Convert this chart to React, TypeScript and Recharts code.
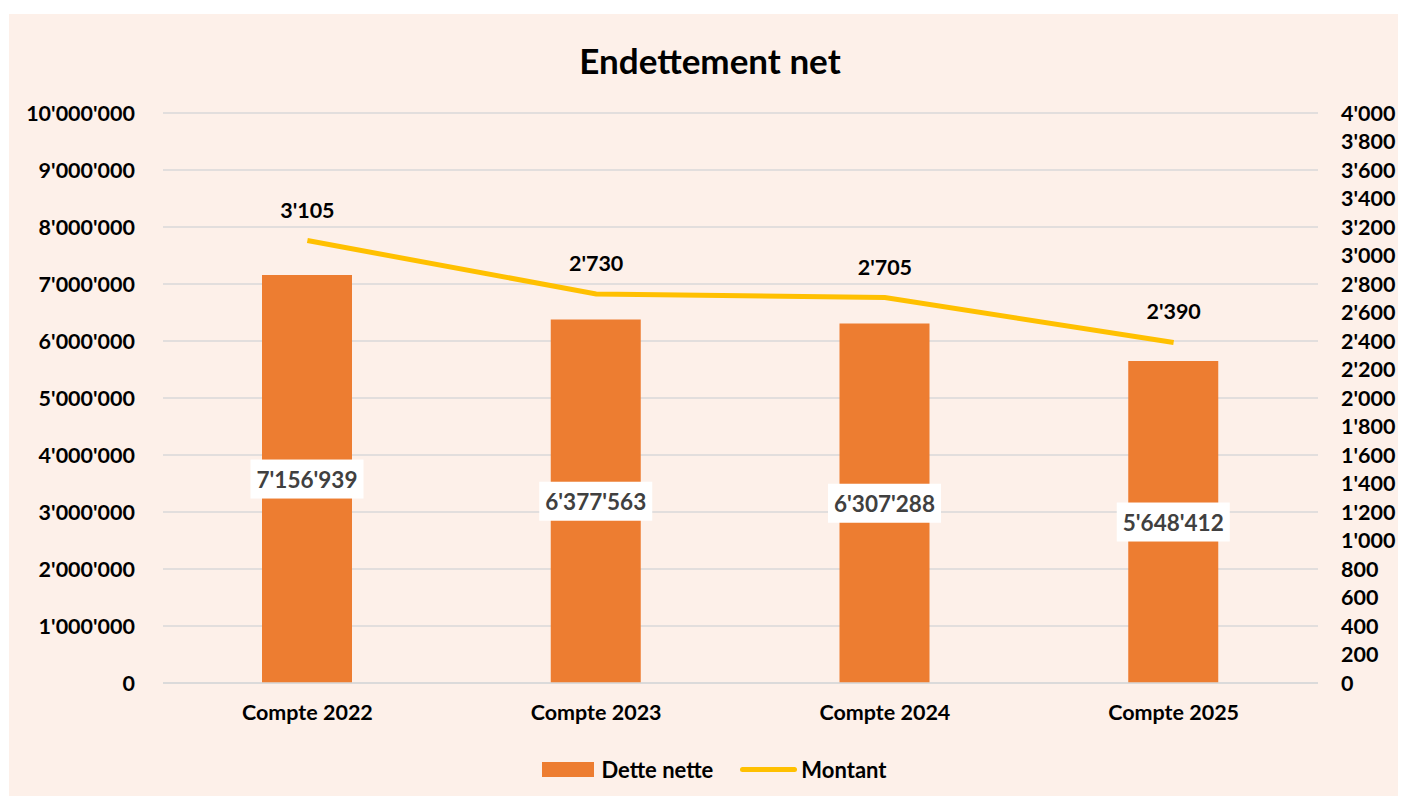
import { ComposedChart, Bar, Line, XAxis, YAxis, CartesianGrid, Legend, LabelList } from "recharts"

const categories = ["Compte 2022", "Compte 2023", "Compte 2024", "Compte 2025"]
const detteNette = [7156939, 6377563, 6307288, 5648412]
const montant = [3105, 2730, 2705, 2390]

const leftTicks = [0, 1000000, 2000000, 3000000, 4000000, 5000000, 6000000, 7000000, 8000000, 9000000, 10000000]
const rightTicks = [
  0, 200, 400, 600, 800, 1000, 1200, 1400, 1600, 1800, 2000,
  2200, 2400, 2600, 2800, 3000, 3200, 3400, 3600, 3800, 4000,
]

const ORANGE = "#ED7D31"
const YELLOW = "#FFC000"
const FONT = "Lato, 'Open Sans', sans-serif"

const data = categories.map((name, i) => ({
  name,
  dette: detteNette[i],
  montant: montant[i],
}))

// swiss style thousands separator
const fmt = (v: number) => String(Math.round(v)).replace(/\B(?=(\d{3})+(?!\d))/g, "'")

const tickStyle = { fill: "#000", fontSize: 21.5, fontWeight: 700 }

function BarLabel(props: any) {
  const { x, y, width, height, value } = props
  const cx = x + width / 2
  const cy = y + height / 2
  return (
    <g>
      <rect x={cx - 56.5} y={cy - 19.5} width={113} height={39} fill="#fff" />
      <text x={cx} y={cy} textAnchor="middle" dominantBaseline="central" fill="#404040" fontSize={22.5} fontWeight={700}>
        {fmt(value)}
      </text>
    </g>
  )
}

function LineLabel(props: any) {
  const { x, y, value } = props
  return (
    <text x={x} y={y - 31} textAnchor="middle" dominantBaseline="central" fill="#000" fontSize={21.5} fontWeight={700}>
      {fmt(value)}
    </text>
  )
}

function LegendContent() {
  return (
    <div style={{ display: "flex", justifyContent: "center", alignItems: "center", paddingLeft: 22, fontSize: 22, fontWeight: 700, color: "#000" }}>
      <span style={{ display: "inline-block", width: 52, height: 15, background: ORANGE, marginRight: 7 }} />
      <span>Dette nette</span>
      <span style={{ display: "inline-block", width: 57, height: 5, borderRadius: 3, background: YELLOW, marginLeft: 27, marginRight: 4 }} />
      <span>Montant</span>
    </div>
  )
}

export default function App() {
  return (
    <div style={{ position: "absolute", left: 0, top: 0, width: 1401, height: 798, background: "#fff", fontFamily: FONT }}>
      <div style={{ position: "absolute", left: 9, top: 14, width: 1389, height: 782, background: "#FDF0E9" }}>
        <div style={{ position: "absolute", left: 0, top: 25, width: 1389, paddingLeft: 13, boxSizing: "border-box", textAlign: "center", fontSize: 35, fontWeight: 700, color: "#000" }}>
          Endettement net
        </div>
        <ComposedChart width={1389} height={782} data={data} margin={{ top: 99, right: 0, left: 0, bottom: 6 }}>
          <CartesianGrid vertical={false} yAxisId="left" stroke="#D9D9D9" strokeWidth={1.5} />
          <XAxis dataKey="name" height={73} axisLine={{ stroke: "#D9D9D9", strokeWidth: 1.5 }} tickLine={false} tickMargin={16} tick={tickStyle} />
          <YAxis
            yAxisId="left"
            domain={[0, 10000000]}
            ticks={leftTicks}
            interval={0}
            width={154}
            axisLine={false}
            tickLine={false}
            tickMargin={22}
            tickFormatter={fmt}
            tick={tickStyle}
          />
          <YAxis
            yAxisId="right"
            orientation="right"
            domain={[0, 4000]}
            ticks={rightTicks}
            interval={0}
            width={80}
            axisLine={false}
            tickLine={false}
            tickMargin={17}
            tickFormatter={fmt}
            tick={tickStyle}
          />
          <Bar yAxisId="left" dataKey="dette" name="Dette nette" fill={ORANGE} barSize={90} isAnimationActive={false}>
            <LabelList dataKey="dette" content={BarLabel} />
          </Bar>
          <Line yAxisId="right" dataKey="montant" name="Montant" stroke={YELLOW} strokeWidth={5} dot={false} isAnimationActive={false}>
            <LabelList dataKey="montant" content={LineLabel} />
          </Line>
          <Legend verticalAlign="bottom" height={34} content={LegendContent} />
        </ComposedChart>
      </div>
    </div>
  )
}
